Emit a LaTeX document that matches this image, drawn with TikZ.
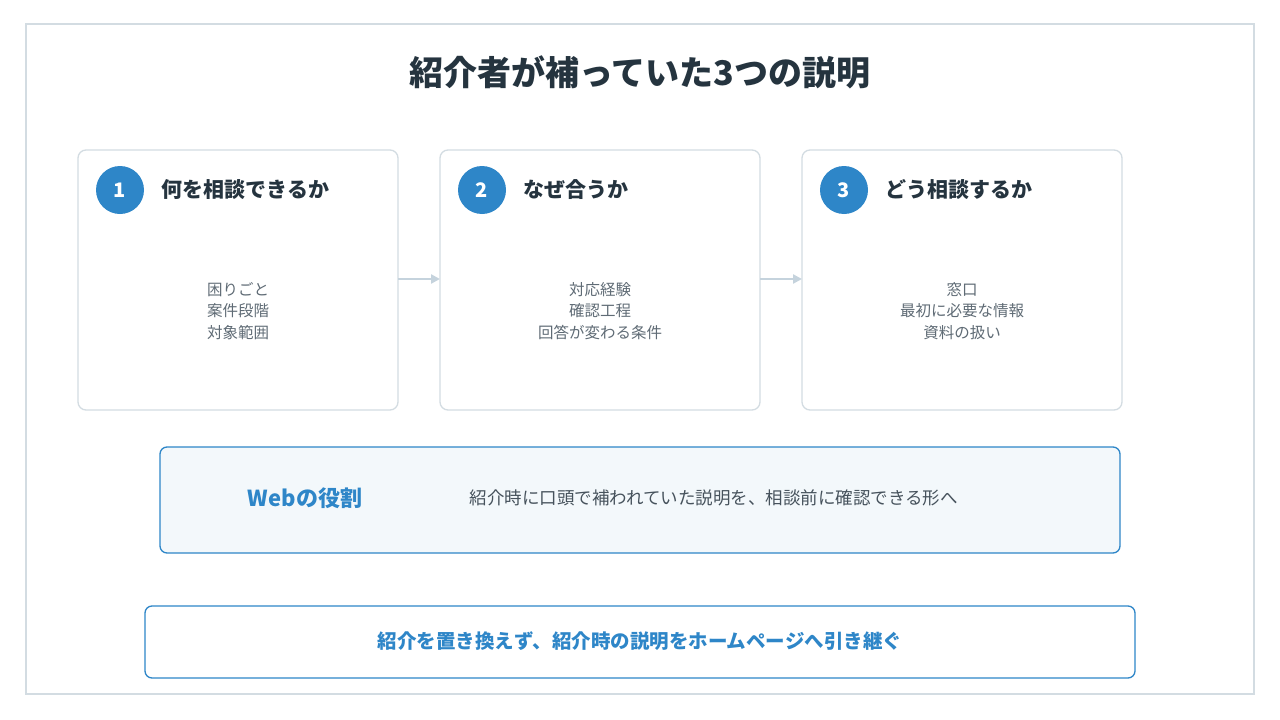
\documentclass[tikz,border=0pt]{standalone}
\usepackage{fontspec}
\setmainfont{Noto Sans CJK JP}
\newfontfamily\jpb{Noto Sans CJK JP Bold}
\usetikzlibrary{arrows.meta}
\definecolor{blu}{HTML}{2E86C8}
\definecolor{dark}{HTML}{25343F}
\definecolor{gry}{HTML}{5F6B75}
\definecolor{cbd}{HTML}{D3DCE2}
\definecolor{arr}{HTML}{C5D3DD}
\definecolor{wfill}{HTML}{F3F8FB}
\tikzset{
 card/.style={draw=cbd,line width=1.3pt,rounded corners=8pt,fill=white},
 num/.style={circle,fill=blu,minimum size=48pt,inner sep=0pt,text=white,font=\bfseries\fontsize{20}{24}\selectfont},
 head/.style={anchor=west,text=dark,font=\bfseries\fontsize{21}{25}\selectfont},
 body/.style={align=center,text=gry,font=\fontsize{15.5}{21.5}\selectfont},
 flow/.style={draw=arr,line width=2.5pt,-{Triangle[length=9pt,width=9pt]}},
 bbox/.style={draw=blu,line width=1.3pt,rounded corners=7pt},
}
\begin{document}
\begin{tikzpicture}[x=1pt,y=-1pt]
\useasboundingbox (0,0) rectangle (1280,720);
\fill[white] (0,0) rectangle (1280,720);
\draw[cbd,line width=1.3pt] (26,24) rectangle (1254,694);
\node[text=dark,font=\bfseries\fontsize{34}{40}\selectfont] (title) at (640,72) {紹介者が補っていた3つの説明};
\foreach \i/\x/\h/\b in {1/78/何を相談できるか/{困りごと\\案件段階\\対象範囲},2/440/なぜ合うか/{対応経験\\確認工程\\回答が変わる条件},3/802/どう相談するか/{窓口\\最初に必要な情報\\資料の扱い}}{
 \draw[card] (\x,150) rectangle ++(320,260);
 \coordinate (c\i) at (\x+160,280);
 \node[num] (n\i) at (\x+42,190) {\i};
 \node[head] (h\i) at (\x+80,190) {\h};
 \node[body] (b\i) at (\x+160,311) {\b};
}
\coordinate (a1) at (398,279); \coordinate (a2) at (440,279);
\coordinate (a3) at (760,279); \coordinate (a4) at (802,279);
\draw[flow] (a1) -- (a2);
\draw[flow] (a3) -- (a4);
\draw[bbox,fill=wfill] (160,447) rectangle (1120,553);
\node[text=blu,font=\bfseries\fontsize{22}{26}\selectfont] (web) at (305,498) {Webの役割};
\node[anchor=west,text=dark!85,font=\fontsize{17.5}{21}\selectfont] (wt) at (466,498) {紹介時に口頭で補われていた説明を、相談前に確認できる形へ};
\draw[bbox,fill=white] (145,606) rectangle (1135,678);
\node[text=blu,font=\bfseries\fontsize{19.5}{24}\selectfont] (bt) at (640,641) {紹介を置き換えず、紹介時の説明をホームページへ引き継ぐ};
\end{tikzpicture}
\end{document}
